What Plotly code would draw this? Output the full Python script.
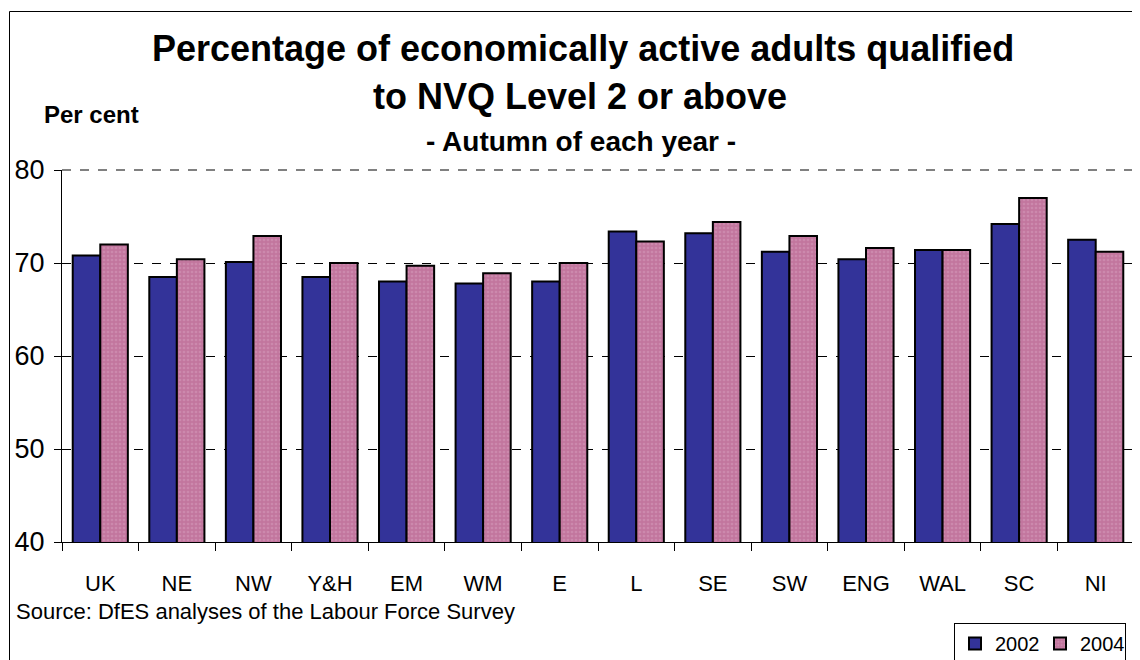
import plotly.graph_objects as go

categories = ["UK", "NE", "NW", "Y&H", "EM", "WM", "E", "L", "SE", "SW", "ENG", "WAL", "SC", "NI"]
values_2002 = [70.8, 68.5, 70.1, 68.5, 68.0, 67.8, 68.0, 73.4, 73.2, 71.2, 70.4, 71.4, 74.2, 72.5]
values_2004 = [72.0, 70.4, 72.9, 70.0, 69.7, 68.9, 70.0, 72.3, 74.4, 72.9, 71.6, 71.4, 77.0, 71.2]
series_names = ["2002", "2004"]
y_ticks = [40, 50, 60, 70, 80]

FONT = "Liberation Sans, Arial, sans-serif"

# the page body has an 8px margin; work in screen pixels and shift
OFF = 8
FW, FH = 1140 - OFF, 660 - OFF

fig = go.Figure()
fig.add_trace(go.Bar(
    x=categories, y=values_2002, name=series_names[0],
    marker=dict(color="#333399", line=dict(color="#000000", width=2)),
))
fig.add_trace(go.Bar(
    x=categories, y=values_2004, name=series_names[1],
    marker=dict(color="#C2769E", line=dict(color="#000000", width=2),
                pattern=dict(shape=".", fgcolor="#D69CBB", size=4, solidity=0.35)),
))

# plot area in screen pixels: x 62..1134, y 170..542
L, R, T, B = 62, 1134, 170, 542
W, H = R - L, B - T

def px(x):
    return (x - L) / W

def py(y):
    return (B - y) / H

fig.update_layout(
    width=FW, height=FH,
    margin=dict(l=L - OFF, r=FW - (R - OFF), t=T - OFF, b=FH - (B - OFF), autoexpand=False),
    paper_bgcolor="white", plot_bgcolor="white",
    barmode="group", bargap=0.28, bargroupgap=0,
    font=dict(family=FONT, color="#000000"),
    showlegend=True,
    legend=dict(
        orientation="h", x=px(954), y=py(623), xanchor="left", yanchor="top",
        font=dict(size=20, family=FONT), bordercolor="#000000", borderwidth=1,
        bgcolor="white", itemwidth=30, entrywidth=40, entrywidthmode="pixels",
        traceorder="normal",
    ),
    xaxis=dict(
        automargin=False,
        showline=True, linecolor="#000000", linewidth=1,
        ticks="outside", tickson="boundaries", ticklen=8, tickcolor="#000000",
        tickfont=dict(size=22, family=FONT), ticklabelstandoff=22,
        showgrid=False,
    ),
    yaxis=dict(
        automargin=False,
        range=[40, 80], tickvals=y_ticks, showline=True, linecolor="#000000", linewidth=1,
        ticks="outside", ticklen=7, tickcolor="#000000",
        tickfont=dict(size=27, family=FONT), ticklabelstandoff=4,
        showgrid=True, gridcolor="#000000", gridwidth=1, griddash="dash",
        zeroline=False,
    ),
)

# plot-area border (top gray dashed and right gray solid)
fig.add_shape(type="line", xref="paper", yref="paper", x0=0, x1=1, y0=1, y1=1,
              line=dict(color="#808080", width=2, dash="dash"))
fig.add_shape(type="line", xref="paper", yref="paper", x0=1, x1=1, y0=0, y1=1,
              line=dict(color="#808080", width=2))
# outer chart frame
fig.add_shape(type="rect", xref="paper", yref="paper",
              x0=px(9.5), x1=px(1150), y0=py(11.5), y1=py(680),
              line=dict(color="#000000", width=1), layer="below")

anns = [
    dict(text="<b>Percentage of economically active adults qualified</b>", x=px(583), y=py(48), size=36),
    dict(text="<b>to NVQ Level 2 or above</b>", x=px(580), y=py(97), size=36),
    dict(text="<b>- Autumn of each year -</b>", x=px(581), y=py(141), size=28),
]
for a in anns:
    fig.add_annotation(text=a["text"], x=a["x"], y=a["y"], xref="paper", yref="paper",
                       xanchor="center", yanchor="middle", showarrow=False,
                       font=dict(size=a["size"], family=FONT, color="#000000"))

fig.add_annotation(text="<b>Per cent</b>", x=px(42), y=py(115), xref="paper", yref="paper",
                   xanchor="left", yanchor="middle", showarrow=False,
                   font=dict(size=24, family=FONT))
fig.add_annotation(text="Source: DfES analyses of the Labour Force Survey", x=px(14), y=py(611),
                   xref="paper", yref="paper", xanchor="left", yanchor="middle", showarrow=False,
                   font=dict(size=22, family=FONT))

fig.write_html("out.html")
